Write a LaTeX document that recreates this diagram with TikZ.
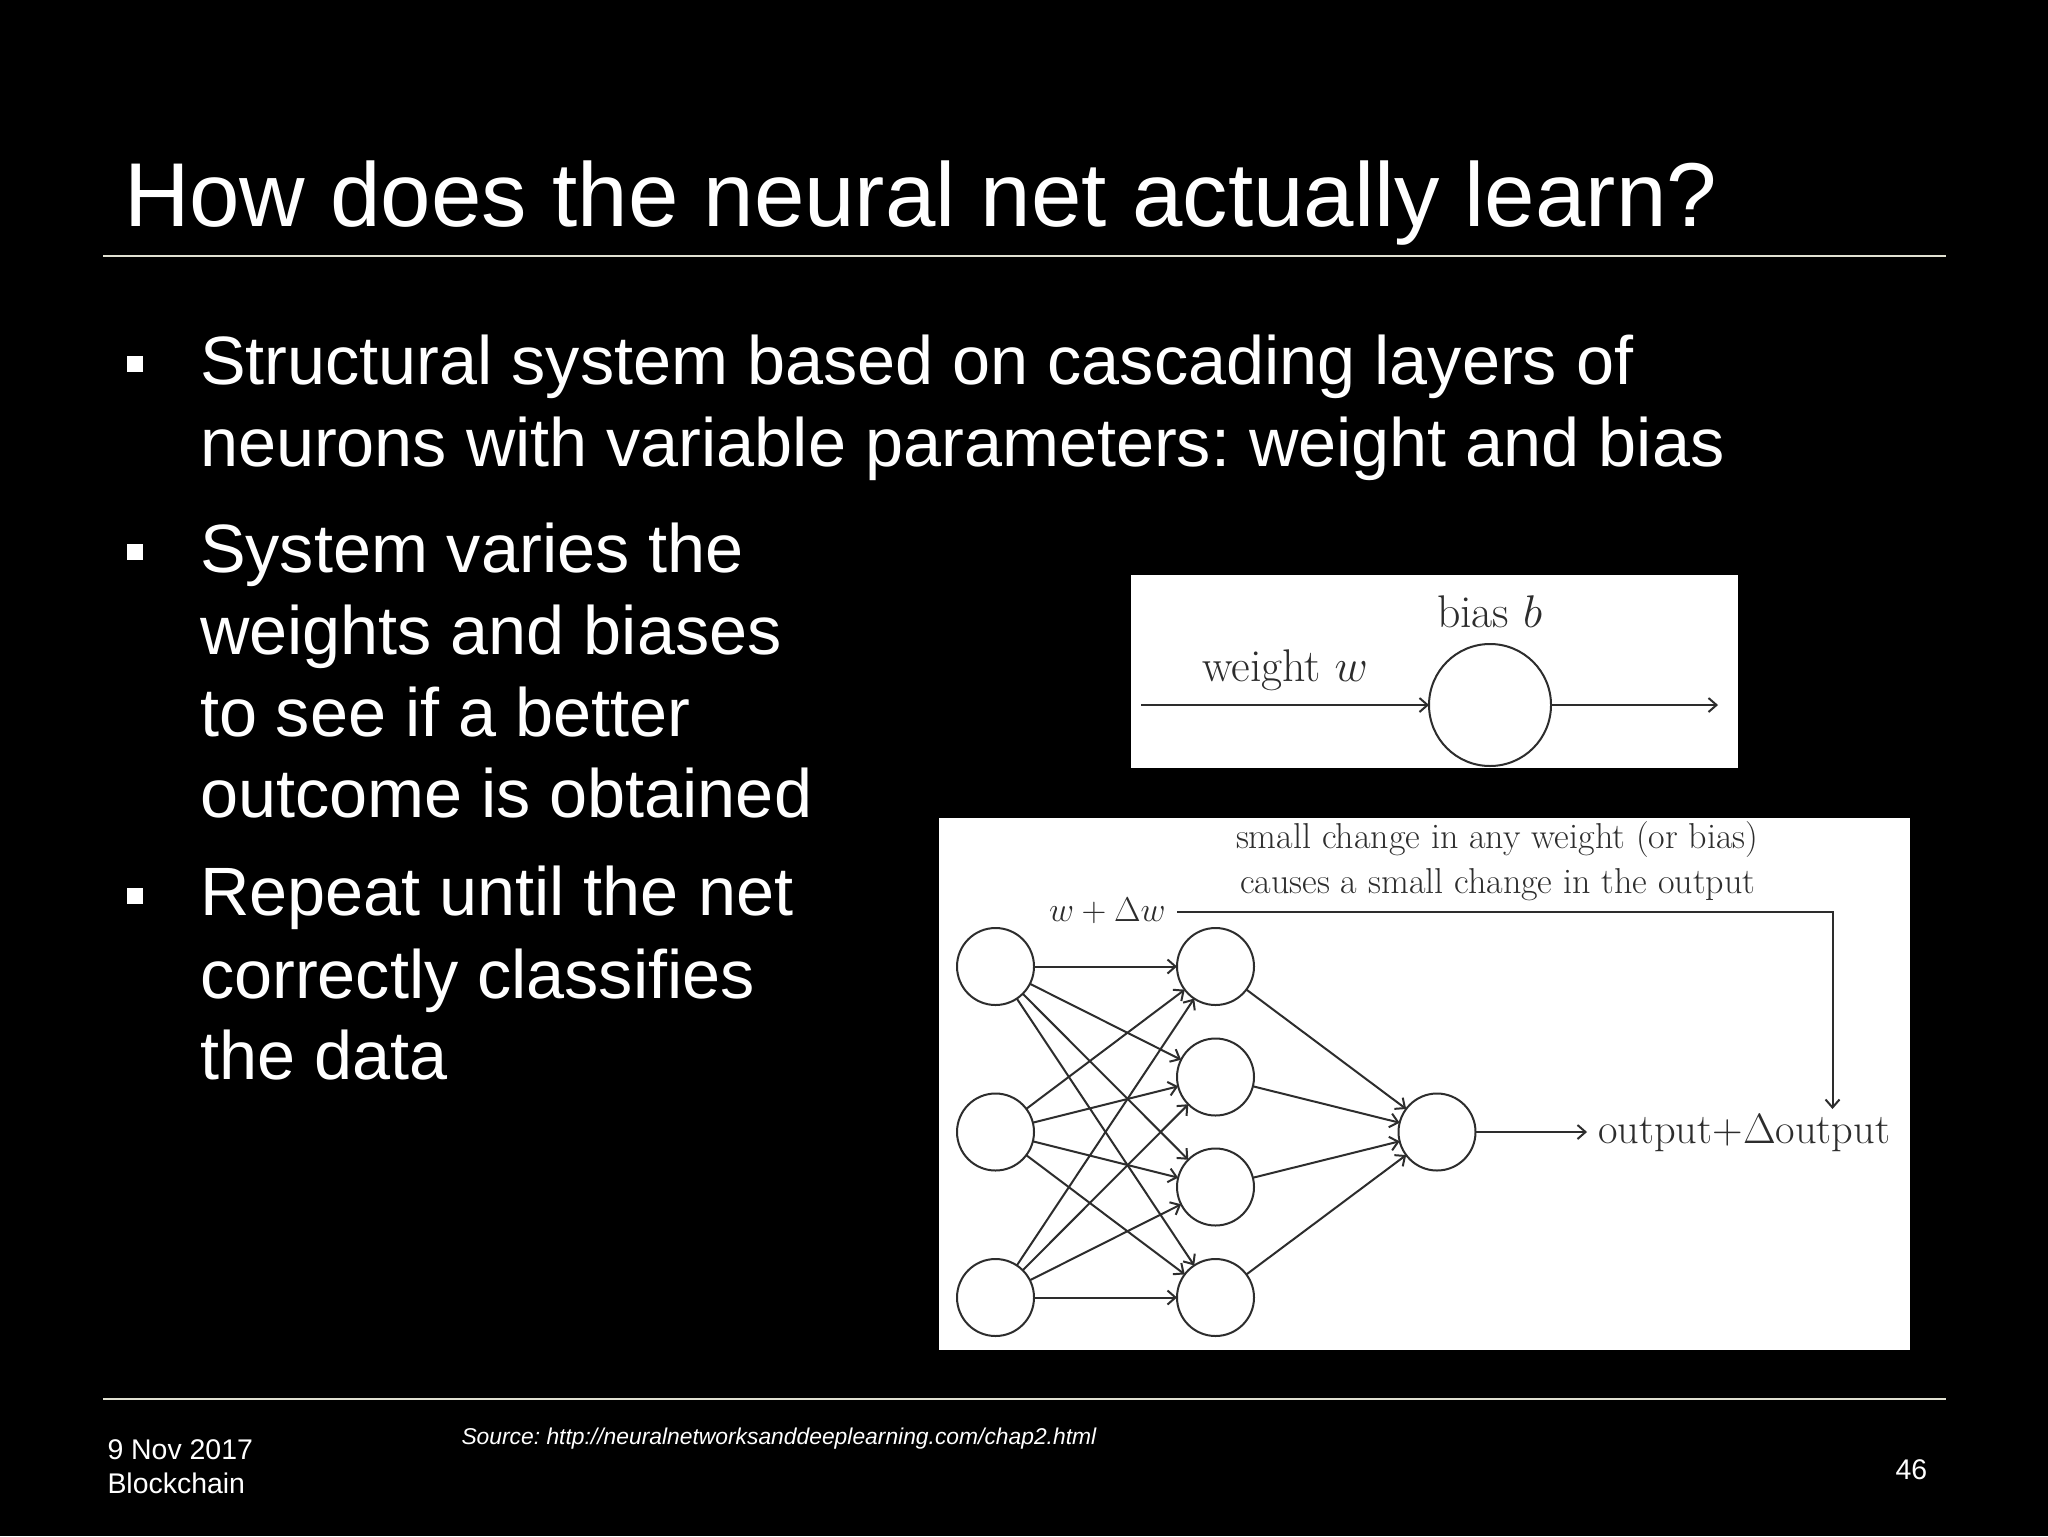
\RequirePackage{fix-cm}
\documentclass[tikz,border=0pt]{standalone}
\usepackage{fontspec}
\setsansfont{Liberation Sans}
\usetikzlibrary{arrows.meta}
\frenchspacing
\definecolor{rulecol}{RGB}{225,225,210}
\definecolor{inkcol}{RGB}{45,45,45}
\tikzset{
  every node/.style={inner sep=0pt,outer sep=0pt},
  titletxt/.style={anchor=base west,text=white,font=\sffamily\fontsize{45.35}{54}\selectfont},
  bodytxt/.style={anchor=base west,text=white,font=\sffamily\fontsize{34.2}{41}\selectfont},
  foottxt/.style={anchor=base west,text=white,font=\sffamily\fontsize{14.22}{17}\selectfont},
  srctxt/.style={anchor=base west,text=white,font=\sffamily\itshape\fontsize{11.42}{14}\selectfont},
  bulletmark/.style={fill=white,minimum size=8pt},
  slideline/.style={draw=rulecol,line width=1pt},
  panel/.style={fill=white},
  neuron/.style={circle,draw=inkcol,line width=1pt,minimum size=38.5pt,fill=white},
  bigneuron/.style={circle,draw=inkcol,line width=1pt,minimum size=61pt,fill=white},
  wire/.style={draw=inkcol,line width=1pt,-{Straight Barb[length=4pt,width=7pt]}},
  lab/.style={anchor=base west,text=inkcol,font=\fontsize{18}{22}\selectfont},
  labbig/.style={anchor=base west,text=inkcol,font=\fontsize{22.9}{27}\selectfont},
  labout/.style={anchor=base west,text=inkcol,font=\fontsize{21.2}{25}\selectfont},
  labdw/.style={anchor=base west,text=inkcol,font=\fontsize{17.2}{21}\selectfont},
}
\begin{document}
\begin{tikzpicture}[x=0.5pt,y=-0.5pt]
\fill[black,use as bounding box] (0,0) rectangle (2048,1536);
% title and rules
\node[titletxt] (title) at (124,226) {How does the neural net actually learn?};
\coordinate (r1a) at (103,256); \coordinate (r1b) at (1946,256);
\coordinate (r2a) at (103,1399); \coordinate (r2b) at (1946,1399);
\draw[slideline] (r1a) -- (r1b);
\draw[slideline] (r2a) -- (r2b);
% body
\node[bulletmark] (b1) at (135,364) {};
\node[bodytxt] (t1) at (200,384.5) {Structural system based on cascading layers of};
\node[bodytxt] (t2) at (200,466) {neurons with variable parameters: weight and bias};
\node[bulletmark] (b2) at (135,552) {};
\node[bodytxt] (t3) at (200,572) {System varies the};
\node[bodytxt] (t4) at (200,654.5) {weights and biases};
\node[bodytxt] (t5) at (200,736) {to see if a better};
\node[bodytxt] (t6) at (200,817.5) {outcome is obtained};
\node[bulletmark] (b3) at (135,896) {};
\node[bodytxt] (t7) at (200,915.5) {Repeat until the net};
\node[bodytxt] (t8) at (200,998) {correctly classifies};
\node[bodytxt] (t9) at (200,1079.5) {the data};
% footer
\node[foottxt] (f1) at (107.5,1459) {9 Nov 2017};
\node[foottxt] (f2) at (107.5,1493) {Blockchain};
\node[srctxt] (f3) at (461.5,1444.5) {Source: http://neuralnetworksanddeeplearning.com/chap2.html};
\node[foottxt] (f4) at (1895.5,1479) {46};
% single neuron panel
\fill[panel] (1131,575) rectangle (1738,768);
\coordinate (sin) at (1141,705);
\coordinate (sout) at (1718,705);
\node[bigneuron] (s) at (1490,705) {};
\draw[wire] (sin) -- (s);
\draw[wire] (s) -- (sout);
\node[labbig] (sw) at (1202,681) {weight $w$};
\node[labbig] (sb) at (1437,627) {bias $b$};
% network panel
\fill[panel] (939,818) rectangle (1910,1350);
\node[neuron] (i1) at (995.5,966.5) {};
\node[neuron] (i2) at (995.5,1132) {};
\node[neuron] (i3) at (995.5,1297.5) {};
\node[neuron] (h1) at (1215.5,966.5) {};
\node[neuron] (h2) at (1215.5,1077) {};
\node[neuron] (h3) at (1215.5,1187) {};
\node[neuron] (h4) at (1215.5,1297.5) {};
\node[neuron] (o) at (1437,1132) {};
\foreach \a in {i1,i2,i3}{\foreach \b in {h1,h2,h3,h4}{\draw[wire] (\a) -- (\b);}}
\foreach \b in {h1,h2,h3,h4}{\draw[wire] (\b) -- (o);}
\node[labout] (out) at (1598,1143) {output+$\Delta$output};
\draw[wire,shorten >=5.5pt] (o) -- (out.west |- o);
\node[lab] (c1) at (1236,848.5) {small change in any weight (or bias)};
\node[lab] (c2) at (1240,893.5) {causes a small change in the output};
\node[labdw] (dw) at (1049,921) {$w+\Delta w$};
\coordinate (fbs) at (1177,912);
\coordinate (fbc) at (1832.5,912);
\coordinate (fbe) at (1832.5,1109);
\draw[wire] (fbs) -- (fbc) -- (fbe);
\end{tikzpicture}
\end{document}
